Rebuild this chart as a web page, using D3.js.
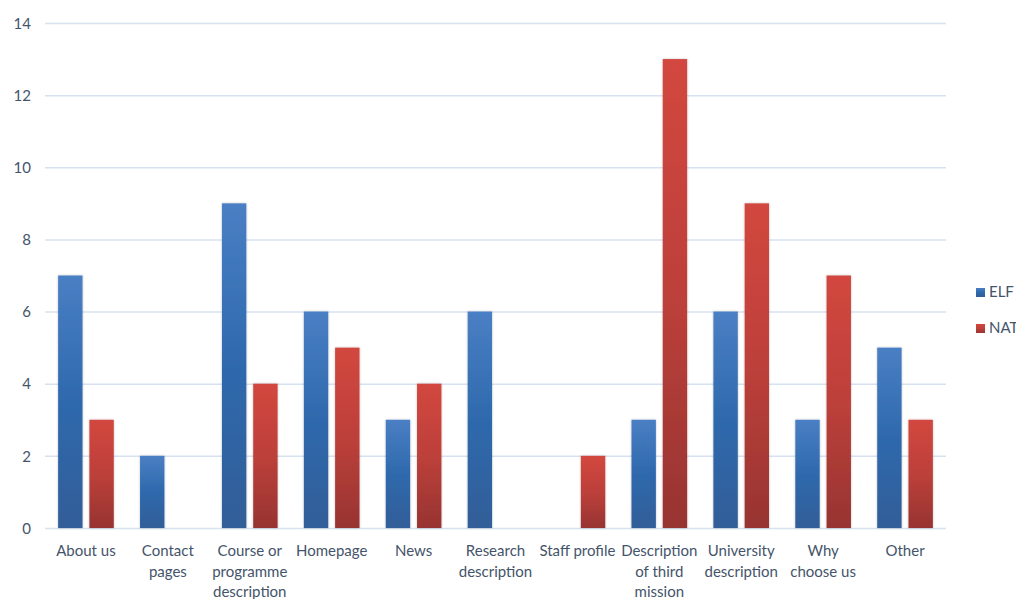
<!DOCTYPE html>
<html>
<head>
<meta charset="utf-8">
<script src="https://cdn.jsdelivr.net/npm/d3@7"></script>
<style>
  html, body { margin: 0; padding: 0; background: #fff; }
  svg { display: block; font-family: Lato, "Open Sans", "Liberation Sans", sans-serif; }
</style>
</head>
<body>
<svg id="chart" width="1016" height="599"></svg>
<script>
// Page types and counts per group
const categories = ["About us", "Contact pages", "Course or programme description", "Homepage", "News",
  "Research description", "Staff profile", "Description of third mission", "University description",
  "Why choose us", "Other"];
const categoryLines = [["About us"], ["Contact", "pages"], ["Course or", "programme", "description"],
  ["Homepage"], ["News"], ["Research", "description"], ["Staff profile"],
  ["Description", "of third", "mission"], ["University", "description"], ["Why", "choose us"], ["Other"]];
const elf = [7, 2, 9, 6, 3, 6, 0, 3, 6, 3, 5];
const nat = [3, 0, 4, 5, 4, 0, 2, 13, 9, 7, 3];
const seriesNames = ["ELF", "NAT"];
const yTicks = [0, 2, 4, 6, 8, 10, 12, 14];

const svg = d3.select("#chart");
const plotLeft = 45, plotRight = 946, plotTop = 23, plotBottom = 528;
const textColor = "#44546a";

const x = d3.scaleBand().domain(categories).range([plotLeft, plotRight]).paddingInner(0).paddingOuter(0);
const inner = d3.scaleBand().domain(seriesNames).range([0, x.bandwidth()]).paddingInner(0.22).paddingOuter(0.42);
const y = d3.scaleLinear().domain([0, 14]).range([plotBottom, plotTop]);

// Gradients for the bars
const defs = svg.append("defs");
const grads = {
  ELF: ["#4a7fc4", "#2f69ad", "#305e98"],
  NAT: ["#d2473f", "#bd403a", "#973432"]
};
Object.entries(grads).forEach(([k, c]) => {
  const g = defs.append("linearGradient").attr("id", "g" + k).attr("x1", 0).attr("y1", 0).attr("x2", 0).attr("y2", 1);
  g.append("stop").attr("offset", "0%").attr("stop-color", c[0]);
  g.append("stop").attr("offset", "50%").attr("stop-color", c[1]);
  g.append("stop").attr("offset", "100%").attr("stop-color", c[2]);
});
const shadow = defs.append("filter").attr("id", "shadow").attr("x", "-20%").attr("y", "-5%").attr("width", "140%").attr("height", "110%");
shadow.append("feDropShadow").attr("dx", 0).attr("dy", 0).attr("stdDeviation", 0.8).attr("flood-color", "#000").attr("flood-opacity", 0.25);

// Gridlines
svg.append("g").selectAll("line").data(yTicks).join("line")
  .attr("x1", plotLeft).attr("x2", plotRight)
  .attr("y1", d => y(d) + 0.5).attr("y2", d => y(d) + 0.5)
  .attr("stroke", "#d6e2f0").attr("stroke-width", 1.5);

// Y axis labels
const yAxis = svg.append("g").attr("transform", `translate(${plotLeft - 14},0)`)
  .call(d3.axisLeft(y).tickValues(yTicks).tickSize(0).tickPadding(0));
yAxis.select(".domain").remove();
yAxis.selectAll("text").attr("fill", textColor).attr("font-size", 15).attr("dy", "0.35em")
  .attr("font-family", "Lato, 'Open Sans', sans-serif");

// Bars
const rows = categories.map((c, i) => ({ c, vals: [["ELF", elf[i]], ["NAT", nat[i]]] }));
const groups = svg.append("g").selectAll("g").data(rows).join("g")
  .attr("transform", d => `translate(${x(d.c)},0)`);
groups.selectAll("rect").data(d => d.vals.filter(v => v[1] > 0)).join("rect")
  .attr("x", d => inner(d[0]))
  .attr("width", inner.bandwidth())
  .attr("y", d => y(d[1]))
  .attr("height", d => y(0) - y(d[1]))
  .attr("fill", d => `url(#g${d[0]})`)
  .attr("filter", "url(#shadow)");

// Category labels
const xl = svg.append("g");
categories.forEach((c, i) => {
  const t = xl.append("text").attr("x", x(c) + x.bandwidth() / 2).attr("y", 556)
    .attr("text-anchor", "middle").attr("fill", textColor).attr("font-size", 15);
  categoryLines[i].forEach((line, j) => {
    t.append("tspan").attr("x", x(c) + x.bandwidth() / 2).attr("dy", j === 0 ? 0 : 20.5).text(line);
  });
});

// Legend
const legend = svg.append("g").attr("transform", "translate(976,0)");
seriesNames.forEach((s, i) => {
  const yy = 292 + i * 36;
  legend.append("rect").attr("x", 0).attr("y", yy - 4).attr("width", 9).attr("height", 9)
    .attr("fill", `url(#g${s})`);
  legend.append("text").attr("x", 13).attr("y", yy).attr("dy", "0.35em")
    .attr("fill", textColor).attr("font-size", 15).text(s);
});
</script>
</body>
</html>
